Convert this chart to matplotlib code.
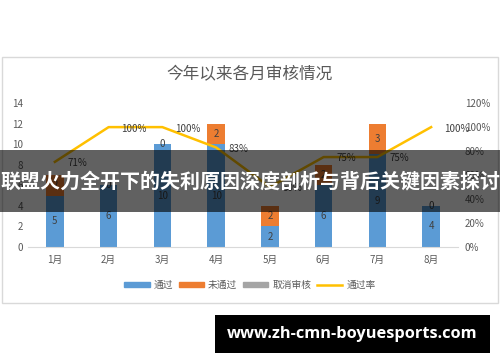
import matplotlib.pyplot as plt
from matplotlib.patches import Rectangle
from matplotlib.lines import Line2D

plt.rcParams['font.family'] = ['Noto Sans CJK SC', 'DejaVu Sans']

# 数据
months = ['1月', '2月', '3月', '4月', '5月', '6月', '7月', '8月']
passed = [5, 6, 10, 10, 2, 6, 9, 4]
failed = [2, 0, 0, 2, 2, 2, 3, 0]
cancelled = [0, 0, 0, 0, 0, 0, 0, 0]
pass_rate = [71, 100, 100, 83, 50, 75, 75, 100]

c_pass = '#5B9BD5'
c_fail = '#ED7D31'
c_cancel = '#A5A5A5'
c_rate = '#FFC000'
c_text = '#595959'

fig = plt.figure(figsize=(5, 3.62), dpi=100)

# 外框
fig.patches.append(Rectangle((2 / 500, 1 - 303 / 362), 496 / 500, 246 / 362,
                             transform=fig.transFigure, fill=False,
                             edgecolor='#D9D9D9', lw=1, zorder=0))

ax = fig.add_axes([0.056, 0.318, 0.86, 0.397])
x = list(range(len(months)))
b1 = ax.bar(x, passed, width=0.33, color=c_pass, zorder=2)
bottom2 = passed
b2 = ax.bar(x, failed, width=0.33, bottom=bottom2, color=c_fail, zorder=2)
bottom3 = [p + f for p, f in zip(passed, failed)]
ax.bar(x, cancelled, width=0.33, bottom=bottom3, color=c_cancel, zorder=2)
ax.bar_label(b1, label_type='center', fontsize=7, color='#404040')
ax.bar_label(b2, label_type='center', fontsize=7, color='#404040')

ax.set_ylim(0, 14)
ax.set_yticks(range(0, 15, 2))
ax.set_xlim(-0.5, len(months) - 0.5)
ax.set_xticks(x)
ax.set_xticklabels(months)
for s in ['top', 'right', 'left']:
    ax.spines[s].set_visible(False)
ax.spines['bottom'].set_color('#D9D9D9')
ax.tick_params(axis='both', length=0, labelsize=7, colors=c_text)
ax.tick_params(axis='x', pad=6)

ax2 = ax.twinx()
ax2.plot(x, pass_rate, color=c_rate, lw=1.8, zorder=3)
for xi, r in zip(x, pass_rate):
    ax2.annotate(f'{r}%', (xi, r), xytext=(9, -1), textcoords='offset points',
                 fontsize=7, color='#404040', va='center', ha='left')
ax2.set_ylim(0, 120)
ax2.set_yticks(range(0, 121, 20))
ax2.set_yticklabels([f'{v}%' for v in range(0, 121, 20)])
for s in ax2.spines.values():
    s.set_visible(False)
ax2.tick_params(axis='y', length=0, labelsize=7, colors=c_text, pad=5)

fig.text(0.5, 1 - 75 / 362, '今年以来各月审核情况', ha='center', va='center',
         fontsize=12, color=c_text)

handles = [Rectangle((0, 0), 1, 1, color=c_pass),
           Rectangle((0, 0), 1, 1, color=c_fail),
           Rectangle((0, 0), 1, 1, color=c_cancel),
           Line2D([0], [0], color=c_rate, lw=1.8)]
fig.legend(handles, ['通过', '未通过', '取消审核', '通过率'], loc='center',
           bbox_to_anchor=(0.5, 1 - 285 / 362), ncol=4, frameon=False,
           fontsize=7, labelcolor=c_text, handlelength=2.6, handleheight=0.45,
           columnspacing=0.6, handletextpad=0.4)

# 横幅
fig.patches.append(Rectangle((0, 1 - 212 / 362), 1, 62 / 362,
                             transform=fig.transFigure, color='black',
                             alpha=0.62, lw=0, zorder=10))
fig.text(0.5, 1 - 181 / 362, '联盟火力全开下的失利原因深度剖析与背后关键因素探讨',
         ha='center', va='center', fontsize=14.4, fontweight='bold',
         color='white', zorder=11)

# 水印
fig.patches.append(Rectangle((215 / 500, 1 - 353 / 362), 275 / 500, 38 / 362,
                             transform=fig.transFigure, color='black',
                             lw=0, zorder=10))
fig.text(352 / 500, 1 - 334 / 362, 'www.zh-cmn-boyuesports.com', ha='center',
         va='center', fontsize=11.8, fontweight='bold', color='white',
         family=['Open Sans', 'DejaVu Sans'], zorder=11)

fig.savefig('out.png', dpi=100)
